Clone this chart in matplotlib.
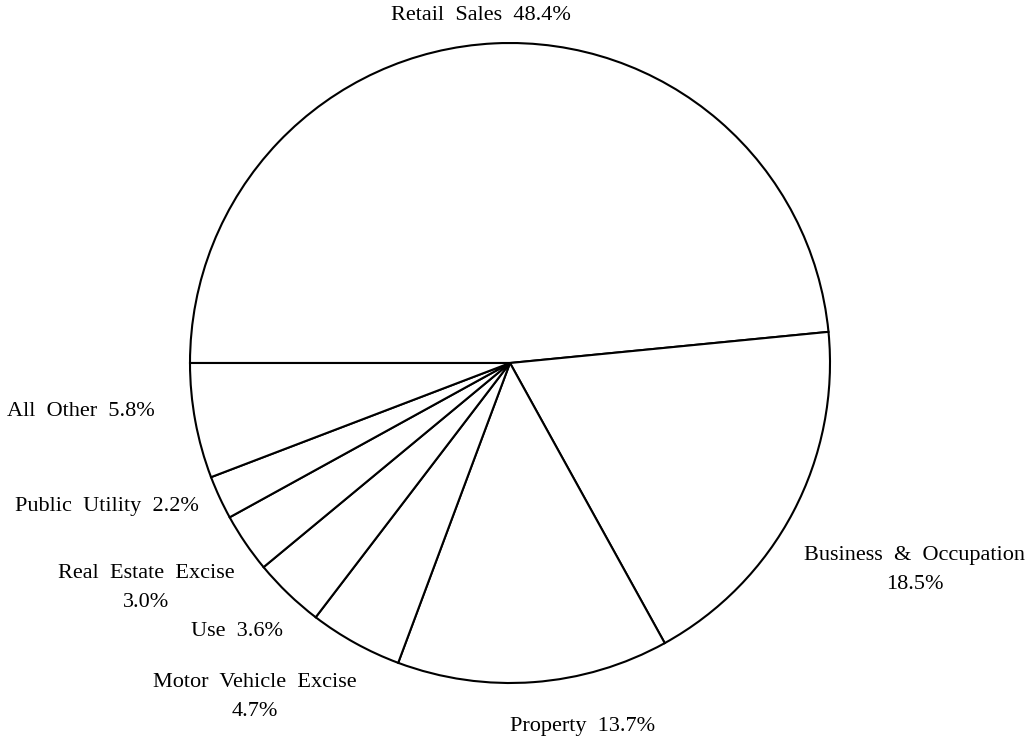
#!/usr/bin/env python3
"""Pie chart of tax revenue sources, drawn as plain outlined wedges."""

import matplotlib
matplotlib.use("Agg")
import matplotlib.pyplot as plt

# data
categories = [
    "Retail Sales",
    "Business & Occupation",
    "Property",
    "Motor Vehicle Excise",
    "Use",
    "Real Estate Excise",
    "Public Utility",
    "All Other",
]
shares = [48.4, 18.5, 13.7, 4.7, 3.6, 3.0, 2.2, 5.8]

# label text as printed on the chart (wide word spacing, some wrapped)
label_texts = [
    "Retail  Sales  48.4%",
    "Business  &  Occupation\n18.5%",
    "Property  13.7%",
    "Motor  Vehicle  Excise\n4.7%",
    "Use  3.6%",
    "Real  Estate  Excise\n3.0%",
    "Public  Utility  2.2%",
    "All  Other  5.8%",
]

# layout: label centres in pixel coordinates (y measured from top)
label_pos = [
    (481, 16), (915, 570), (583, 727), (255, 697),
    (237, 632), (146, 588), (107, 506), (81, 411),
]

W, H = 1029, 740
CX, CY, R = 510, 363, 320

plt.rcParams["font.family"] = ["Liberation Serif", "DejaVu Serif"]

fig = plt.figure(figsize=(W / 100, H / 100), dpi=100)
ax = fig.add_axes([0, 0, 1, 1])

ax.pie(
    shares,
    center=(CX, H - CY),
    radius=R,
    startangle=180,
    counterclock=False,
    colors=["white"] * len(shares),
    wedgeprops=dict(edgecolor="black", linewidth=1.5),
    frame=True,
)
ax.set_xlim(0, W)
ax.set_ylim(0, H)
ax.set_aspect("equal")
ax.axis("off")

for text, (x, y) in zip(label_texts, label_pos):
    ax.text(x, H - y, text, ha="center", va="center", multialignment="center",
            fontsize=16, linespacing=1.65, color="black")

fig.savefig("out.png", dpi=100)
